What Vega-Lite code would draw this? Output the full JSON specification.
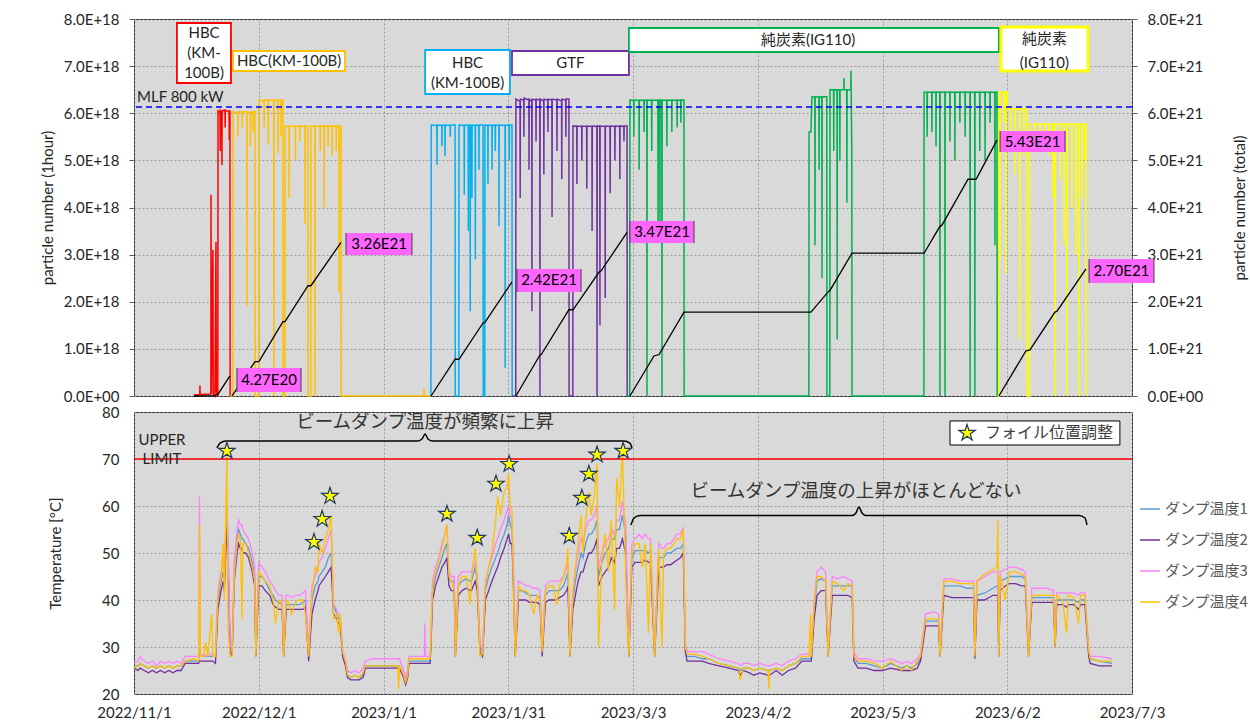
{
"$schema":"https://vega.github.io/schema/vega-lite/v6.json",
"padding":{"left":39,"top":11,"right":0,"bottom":0},
"background":"white",
"bounds":"flush",
"spacing":16,
"resolve":{"scale":{"color":"independent","stroke":"independent"},"legend":{"color":"independent","stroke":"independent"}},
"config":{
 "view":{"fill":"#d9d9d9","stroke":"#262626","strokeWidth":1},
 "axis":{"labelFont":"Lato","labelFontSize":15,"labelColor":"#262626","titleFont":"Lato","titleFontSize":15,"titleColor":"#262626","titleFontWeight":"normal","gridColor":"#8c8c8c","gridDash":[2,2],"gridWidth":0.8,"domain":false,"tickColor":"#595959"}
},
"datasets":{
"pn":[
{"t":"2022-11-15T16:00","v":2e16,"g":"r"},{"t":"2022-11-17T02:00","v":3e16,"g":"r"},{"t":"2022-11-17T03:00","v":2.2e17,"g":"r"},{"t":"2022-11-17T04:00","v":3e16,"g":"r"},{"t":"2022-11-19T19:00","v":4e16,"g":"r"},{"t":"2022-11-19T20:00","v":4.27e18,"g":"r"},{"t":"2022-11-19T22:00","v":5e16,"g":"r"},{"t":"2022-11-20T07:00","v":3.1e18,"g":"r"},{"t":"2022-11-20T09:00","v":5e16,"g":"r"},{"t":"2022-11-20T19:00","v":0,"g":"r"},{"t":"2022-11-21T01:00","v":3.27e18,"g":"r"},{"t":"2022-11-21T03:00","v":1e17,"g":"r"},{"t":"2022-11-21T12:00","v":0,"g":"r"},{"t":"2022-11-21T13:00","v":6.05e18,"g":"r"},{"t":"2022-11-22T01:00","v":6.02e18,"g":"r"},{"t":"2022-11-22T02:00","v":5.2e18,"g":"r"},{"t":"2022-11-22T03:00","v":6.05e18,"g":"r"},{"t":"2022-11-22T11:00","v":6.0e18,"g":"r"},{"t":"2022-11-22T12:00","v":4.9e18,"g":"r"},{"t":"2022-11-22T13:00","v":6.05e18,"g":"r"},{"t":"2022-11-23T06:00","v":6.07e18,"g":"r"},{"t":"2022-11-23T07:00","v":5.7e18,"g":"r"},{"t":"2022-11-23T08:00","v":6.05e18,"g":"r"},{"t":"2022-11-24T06:00","v":6.05e18,"g":"r"},{"t":"2022-11-24T07:00","v":5.43e18,"g":"r"},{"t":"2022-11-24T08:00","v":6.05e18,"g":"r"},{"t":"2022-11-24T11:00","v":6.05e18,"g":"r"},{"t":"2022-11-24T12:00","v":0,"g":"r"},
{"t":"2022-11-24T12:00","v":0,"g":"o"},{"t":"2022-11-25T04:00","v":0,"g":"o"},{"t":"2022-11-25T05:00","v":6.03e18,"g":"o"},{"t":"2022-11-26T10:00","v":6.0e18,"g":"o"},{"t":"2022-11-26T11:00","v":5.5e18,"g":"o"},{"t":"2022-11-26T12:00","v":6.03e18,"g":"o"},{"t":"2022-11-27T10:00","v":6.02e18,"g":"o"},{"t":"2022-11-27T11:00","v":5.7e18,"g":"o"},{"t":"2022-11-27T12:00","v":6.03e18,"g":"o"},{"t":"2022-11-28T14:00","v":6.03e18,"g":"o"},{"t":"2022-11-28T15:00","v":1.9e18,"g":"o"},{"t":"2022-11-28T16:00","v":6.03e18,"g":"o"},{"t":"2022-11-29T10:00","v":6.0e18,"g":"o"},{"t":"2022-11-29T11:00","v":5.3e18,"g":"o"},{"t":"2022-11-29T12:00","v":6.03e18,"g":"o"},{"t":"2022-11-30T02:00","v":6.02e18,"g":"o"},{"t":"2022-11-30T03:00","v":5.6e18,"g":"o"},{"t":"2022-11-30T04:00","v":6.03e18,"g":"o"},{"t":"2022-11-30T14:00","v":6.03e18,"g":"o"},{"t":"2022-11-30T15:00","v":0,"g":"o"},{"t":"2022-12-01T12:00","v":0,"g":"o"},{"t":"2022-12-01T13:00","v":6.28e18,"g":"o"},{"t":"2022-12-02T19:00","v":6.26e18,"g":"o"},{"t":"2022-12-02T20:00","v":5.7e18,"g":"o"},{"t":"2022-12-02T21:00","v":6.28e18,"g":"o"},{"t":"2022-12-03T19:00","v":6.27e18,"g":"o"},{"t":"2022-12-03T20:00","v":5.33e18,"g":"o"},{"t":"2022-12-03T21:00","v":6.28e18,"g":"o"},{"t":"2022-12-05T04:00","v":6.28e18,"g":"o"},{"t":"2022-12-05T05:00","v":0,"g":"o"},{"t":"2022-12-05T06:00","v":6.28e18,"g":"o"},{"t":"2022-12-06T05:00","v":6.26e18,"g":"o"},{"t":"2022-12-06T06:00","v":5.15e18,"g":"o"},{"t":"2022-12-06T07:00","v":6.28e18,"g":"o"},{"t":"2022-12-06T22:00","v":6.27e18,"g":"o"},{"t":"2022-12-06T23:00","v":5.5e18,"g":"o"},{"t":"2022-12-07T00:00","v":6.28e18,"g":"o"},{"t":"2022-12-07T10:00","v":6.28e18,"g":"o"},{"t":"2022-12-07T11:00","v":0,"g":"o"},{"t":"2022-12-07T21:00","v":0,"g":"o"},{"t":"2022-12-07T22:00","v":5.73e18,"g":"o"},{"t":"2022-12-08T21:00","v":5.72e18,"g":"o"},{"t":"2022-12-08T22:00","v":4.2e18,"g":"o"},{"t":"2022-12-08T23:00","v":5.73e18,"g":"o"},{"t":"2022-12-10T10:00","v":5.72e18,"g":"o"},{"t":"2022-12-10T11:00","v":5.0e18,"g":"o"},{"t":"2022-12-10T12:00","v":5.73e18,"g":"o"},{"t":"2022-12-11T12:00","v":5.72e18,"g":"o"},{"t":"2022-12-11T13:00","v":5.4e18,"g":"o"},{"t":"2022-12-11T14:00","v":5.73e18,"g":"o"},{"t":"2022-12-12T19:00","v":5.72e18,"g":"o"},{"t":"2022-12-12T20:00","v":3.65e18,"g":"o"},{"t":"2022-12-12T21:00","v":5.73e18,"g":"o"},{"t":"2022-12-13T13:00","v":5.73e18,"g":"o"},{"t":"2022-12-13T14:00","v":0,"g":"o"},{"t":"2022-12-14T05:00","v":0,"g":"o"},{"t":"2022-12-14T06:00","v":5.73e18,"g":"o"},{"t":"2022-12-15T05:00","v":5.72e18,"g":"o"},{"t":"2022-12-15T06:00","v":0,"g":"o"},{"t":"2022-12-15T07:00","v":5.73e18,"g":"o"},{"t":"2022-12-16T12:00","v":5.72e18,"g":"o"},{"t":"2022-12-16T13:00","v":5.2e18,"g":"o"},{"t":"2022-12-16T14:00","v":5.73e18,"g":"o"},{"t":"2022-12-17T11:00","v":5.72e18,"g":"o"},{"t":"2022-12-17T12:00","v":4.0e18,"g":"o"},{"t":"2022-12-17T13:00","v":5.73e18,"g":"o"},{"t":"2022-12-18T10:00","v":5.72e18,"g":"o"},{"t":"2022-12-18T11:00","v":5.3e18,"g":"o"},{"t":"2022-12-18T12:00","v":5.73e18,"g":"o"},{"t":"2022-12-19T10:00","v":5.72e18,"g":"o"},{"t":"2022-12-19T11:00","v":5.1e18,"g":"o"},{"t":"2022-12-19T12:00","v":5.73e18,"g":"o"},{"t":"2022-12-20T10:00","v":5.72e18,"g":"o"},{"t":"2022-12-20T11:00","v":5.2e18,"g":"o"},{"t":"2022-12-20T12:00","v":5.73e18,"g":"o"},{"t":"2022-12-21T03:00","v":5.72e18,"g":"o"},{"t":"2022-12-21T04:00","v":2.2e18,"g":"o"},{"t":"2022-12-21T05:00","v":5.73e18,"g":"o"},{"t":"2022-12-21T15:00","v":5.73e18,"g":"o"},{"t":"2022-12-21T16:00","v":0,"g":"o"},{"t":"2023-01-10T20:00","v":0,"g":"o"},{"t":"2023-01-10T22:00","v":1.5e17,"g":"o"},{"t":"2023-01-11T00:00","v":0,"g":"o"},{"t":"2023-01-12T14:00","v":0,"g":"o"},
{"t":"2023-01-12T14:00","v":0,"g":"c"},{"t":"2023-01-12T15:00","v":2.2e18,"g":"c"},{"t":"2023-01-12T16:00","v":5.75e18,"g":"c"},{"t":"2023-01-14T01:00","v":5.74e18,"g":"c"},{"t":"2023-01-14T02:00","v":4.9e18,"g":"c"},{"t":"2023-01-14T03:00","v":5.75e18,"g":"c"},{"t":"2023-01-15T06:00","v":5.74e18,"g":"c"},{"t":"2023-01-15T07:00","v":5.3e18,"g":"c"},{"t":"2023-01-15T08:00","v":5.75e18,"g":"c"},{"t":"2023-01-16T00:00","v":5.74e18,"g":"c"},{"t":"2023-01-16T01:00","v":5.1e18,"g":"c"},{"t":"2023-01-16T02:00","v":5.75e18,"g":"c"},{"t":"2023-01-17T07:00","v":5.74e18,"g":"c"},{"t":"2023-01-17T08:00","v":5.5e18,"g":"c"},{"t":"2023-01-17T09:00","v":5.75e18,"g":"c"},{"t":"2023-01-18T12:00","v":5.75e18,"g":"c"},{"t":"2023-01-18T13:00","v":0,"g":"c"},{"t":"2023-01-19T10:00","v":0,"g":"c"},{"t":"2023-01-19T11:00","v":5.75e18,"g":"c"},{"t":"2023-01-20T17:00","v":5.74e18,"g":"c"},{"t":"2023-01-20T18:00","v":4.27e18,"g":"c"},{"t":"2023-01-20T19:00","v":5.75e18,"g":"c"},{"t":"2023-01-21T17:00","v":5.74e18,"g":"c"},{"t":"2023-01-21T18:00","v":3.5e18,"g":"c"},{"t":"2023-01-21T19:00","v":5.75e18,"g":"c"},{"t":"2023-01-22T04:00","v":5.74e18,"g":"c"},{"t":"2023-01-22T05:00","v":1.8e18,"g":"c"},{"t":"2023-01-22T06:00","v":5.75e18,"g":"c"},{"t":"2023-01-22T14:00","v":5.74e18,"g":"c"},{"t":"2023-01-22T15:00","v":4.2e18,"g":"c"},{"t":"2023-01-22T16:00","v":5.75e18,"g":"c"},{"t":"2023-01-23T10:00","v":5.74e18,"g":"c"},{"t":"2023-01-23T11:00","v":2.9e18,"g":"c"},{"t":"2023-01-23T12:00","v":5.75e18,"g":"c"},{"t":"2023-01-24T07:00","v":5.74e18,"g":"c"},{"t":"2023-01-24T08:00","v":4.8e18,"g":"c"},{"t":"2023-01-24T09:00","v":5.75e18,"g":"c"},{"t":"2023-01-25T08:00","v":5.75e18,"g":"c"},{"t":"2023-01-25T09:00","v":0,"g":"c"},{"t":"2023-01-25T18:00","v":0,"g":"c"},{"t":"2023-01-25T19:00","v":5.75e18,"g":"c"},{"t":"2023-01-26T12:00","v":5.74e18,"g":"c"},{"t":"2023-01-26T13:00","v":4.5e18,"g":"c"},{"t":"2023-01-26T14:00","v":5.75e18,"g":"c"},{"t":"2023-01-27T12:00","v":5.74e18,"g":"c"},{"t":"2023-01-27T13:00","v":4.8e18,"g":"c"},{"t":"2023-01-27T14:00","v":5.75e18,"g":"c"},{"t":"2023-01-28T07:00","v":5.74e18,"g":"c"},{"t":"2023-01-28T08:00","v":5.2e18,"g":"c"},{"t":"2023-01-28T09:00","v":5.75e18,"g":"c"},{"t":"2023-01-29T05:00","v":5.74e18,"g":"c"},{"t":"2023-01-29T06:00","v":3.6e18,"g":"c"},{"t":"2023-01-29T07:00","v":5.75e18,"g":"c"},{"t":"2023-01-30T17:00","v":5.74e18,"g":"c"},{"t":"2023-01-30T18:00","v":6e17,"g":"c"},{"t":"2023-01-30T19:00","v":5.75e18,"g":"c"},{"t":"2023-01-31T17:00","v":5.74e18,"g":"c"},{"t":"2023-01-31T18:00","v":5.0e18,"g":"c"},{"t":"2023-01-31T19:00","v":5.75e18,"g":"c"},{"t":"2023-02-01T10:00","v":5.75e18,"g":"c"},{"t":"2023-02-01T11:00","v":0,"g":"c"},
{"t":"2023-02-01T11:00","v":0,"g":"p"},{"t":"2023-02-02T08:00","v":0,"g":"p"},{"t":"2023-02-02T09:00","v":6.3e18,"g":"p"},{"t":"2023-02-03T09:00","v":6.25e18,"g":"p"},{"t":"2023-02-03T10:00","v":4.2e18,"g":"p"},{"t":"2023-02-03T11:00","v":6.3e18,"g":"p"},{"t":"2023-02-04T07:00","v":6.28e18,"g":"p"},{"t":"2023-02-04T08:00","v":5.5e18,"g":"p"},{"t":"2023-02-04T09:00","v":6.32e18,"g":"p"},{"t":"2023-02-05T13:00","v":6.28e18,"g":"p"},{"t":"2023-02-05T14:00","v":4.8e18,"g":"p"},{"t":"2023-02-05T15:00","v":6.3e18,"g":"p"},{"t":"2023-02-06T06:00","v":6.25e18,"g":"p"},{"t":"2023-02-06T07:00","v":1.8e18,"g":"p"},{"t":"2023-02-06T08:00","v":6.3e18,"g":"p"},{"t":"2023-02-07T06:00","v":6.28e18,"g":"p"},{"t":"2023-02-07T07:00","v":5.4e18,"g":"p"},{"t":"2023-02-07T08:00","v":6.3e18,"g":"p"},{"t":"2023-02-08T05:00","v":6.28e18,"g":"p"},{"t":"2023-02-08T06:00","v":0,"g":"p"},{"t":"2023-02-08T07:00","v":6.3e18,"g":"p"},{"t":"2023-02-09T04:00","v":6.26e18,"g":"p"},{"t":"2023-02-09T05:00","v":4.7e18,"g":"p"},{"t":"2023-02-09T06:00","v":6.3e18,"g":"p"},{"t":"2023-02-10T04:00","v":6.28e18,"g":"p"},{"t":"2023-02-10T05:00","v":5.6e18,"g":"p"},{"t":"2023-02-10T06:00","v":6.3e18,"g":"p"},{"t":"2023-02-11T04:00","v":6.28e18,"g":"p"},{"t":"2023-02-11T05:00","v":3.8e18,"g":"p"},{"t":"2023-02-11T06:00","v":6.3e18,"g":"p"},{"t":"2023-02-12T09:00","v":6.28e18,"g":"p"},{"t":"2023-02-12T10:00","v":5.2e18,"g":"p"},{"t":"2023-02-12T11:00","v":6.3e18,"g":"p"},{"t":"2023-02-13T13:00","v":6.26e18,"g":"p"},{"t":"2023-02-13T14:00","v":4.6e18,"g":"p"},{"t":"2023-02-13T15:00","v":6.3e18,"g":"p"},{"t":"2023-02-14T13:00","v":6.28e18,"g":"p"},{"t":"2023-02-14T14:00","v":5.5e18,"g":"p"},{"t":"2023-02-14T15:00","v":6.3e18,"g":"p"},{"t":"2023-02-15T08:00","v":6.3e18,"g":"p"},{"t":"2023-02-15T09:00","v":0,"g":"p"},{"t":"2023-02-16T07:00","v":0,"g":"p"},{"t":"2023-02-16T08:00","v":5.73e18,"g":"p"},{"t":"2023-02-17T06:00","v":5.72e18,"g":"p"},{"t":"2023-02-17T07:00","v":4.5e18,"g":"p"},{"t":"2023-02-17T08:00","v":5.73e18,"g":"p"},{"t":"2023-02-18T11:00","v":5.72e18,"g":"p"},{"t":"2023-02-18T12:00","v":5.0e18,"g":"p"},{"t":"2023-02-18T13:00","v":5.73e18,"g":"p"},{"t":"2023-02-19T16:00","v":5.72e18,"g":"p"},{"t":"2023-02-19T17:00","v":4.4e18,"g":"p"},{"t":"2023-02-19T18:00","v":5.73e18,"g":"p"},{"t":"2023-02-20T23:00","v":5.72e18,"g":"p"},{"t":"2023-02-21T00:00","v":3.5e18,"g":"p"},{"t":"2023-02-21T01:00","v":5.73e18,"g":"p"},{"t":"2023-02-22T04:00","v":5.72e18,"g":"p"},{"t":"2023-02-22T05:00","v":0,"g":"p"},{"t":"2023-02-22T06:00","v":5.73e18,"g":"p"},{"t":"2023-02-22T21:00","v":5.72e18,"g":"p"},{"t":"2023-02-22T22:00","v":1.5e18,"g":"p"},{"t":"2023-02-22T23:00","v":5.73e18,"g":"p"},{"t":"2023-02-24T04:00","v":5.72e18,"g":"p"},{"t":"2023-02-24T05:00","v":2.08e18,"g":"p"},{"t":"2023-02-24T06:00","v":5.73e18,"g":"p"},{"t":"2023-02-25T09:00","v":5.72e18,"g":"p"},{"t":"2023-02-25T10:00","v":4.3e18,"g":"p"},{"t":"2023-02-25T11:00","v":5.73e18,"g":"p"},{"t":"2023-02-26T13:00","v":5.72e18,"g":"p"},{"t":"2023-02-26T14:00","v":5.0e18,"g":"p"},{"t":"2023-02-26T15:00","v":5.73e18,"g":"p"},{"t":"2023-02-27T18:00","v":5.72e18,"g":"p"},{"t":"2023-02-27T19:00","v":4.6e18,"g":"p"},{"t":"2023-02-27T20:00","v":5.73e18,"g":"p"},{"t":"2023-02-28T18:00","v":5.72e18,"g":"p"},{"t":"2023-02-28T19:00","v":5.4e18,"g":"p"},{"t":"2023-02-28T20:00","v":5.73e18,"g":"p"},{"t":"2023-03-01T13:00","v":5.73e18,"g":"p"},{"t":"2023-03-01T14:00","v":0,"g":"p"},
{"t":"2023-03-01T14:00","v":0,"g":"g"},{"t":"2023-03-02T05:00","v":0,"g":"g"},{"t":"2023-03-02T06:00","v":6.28e18,"g":"g"},{"t":"2023-03-03T04:00","v":6.27e18,"g":"g"},{"t":"2023-03-03T05:00","v":5.5e18,"g":"g"},{"t":"2023-03-03T06:00","v":6.28e18,"g":"g"},{"t":"2023-03-04T11:00","v":6.27e18,"g":"g"},{"t":"2023-03-04T12:00","v":4.8e18,"g":"g"},{"t":"2023-03-04T13:00","v":6.28e18,"g":"g"},{"t":"2023-03-05T16:00","v":6.27e18,"g":"g"},{"t":"2023-03-05T17:00","v":5.6e18,"g":"g"},{"t":"2023-03-05T18:00","v":6.28e18,"g":"g"},{"t":"2023-03-06T09:00","v":6.27e18,"g":"g"},{"t":"2023-03-06T10:00","v":0,"g":"g"},{"t":"2023-03-06T11:00","v":6.28e18,"g":"g"},{"t":"2023-03-07T13:00","v":6.27e18,"g":"g"},{"t":"2023-03-07T14:00","v":5.2e18,"g":"g"},{"t":"2023-03-07T15:00","v":6.28e18,"g":"g"},{"t":"2023-03-09T02:00","v":6.27e18,"g":"g"},{"t":"2023-03-09T03:00","v":3.3e18,"g":"g"},{"t":"2023-03-09T04:00","v":6.28e18,"g":"g"},{"t":"2023-03-09T13:00","v":6.27e18,"g":"g"},{"t":"2023-03-09T14:00","v":3.6e18,"g":"g"},{"t":"2023-03-09T15:00","v":6.28e18,"g":"g"},{"t":"2023-03-10T01:00","v":6.27e18,"g":"g"},{"t":"2023-03-10T02:00","v":0,"g":"g"},{"t":"2023-03-10T03:00","v":6.28e18,"g":"g"},{"t":"2023-03-11T06:00","v":6.27e18,"g":"g"},{"t":"2023-03-11T07:00","v":5.3e18,"g":"g"},{"t":"2023-03-11T08:00","v":6.28e18,"g":"g"},{"t":"2023-03-12T11:00","v":6.27e18,"g":"g"},{"t":"2023-03-12T12:00","v":5.6e18,"g":"g"},{"t":"2023-03-12T13:00","v":6.28e18,"g":"g"},{"t":"2023-03-13T18:00","v":6.27e18,"g":"g"},{"t":"2023-03-13T19:00","v":5.7e18,"g":"g"},{"t":"2023-03-13T20:00","v":6.28e18,"g":"g"},{"t":"2023-03-14T16:00","v":6.27e18,"g":"g"},{"t":"2023-03-14T17:00","v":5.8e18,"g":"g"},{"t":"2023-03-14T18:00","v":6.28e18,"g":"g"},{"t":"2023-03-15T11:00","v":6.28e18,"g":"g"},{"t":"2023-03-15T12:00","v":0,"g":"g"},{"t":"2023-04-15T00:00","v":0,"g":"g"},{"t":"2023-04-15T01:00","v":5.6e18,"g":"g"},{"t":"2023-04-15T12:00","v":5.6e18,"g":"g"},{"t":"2023-04-15T18:00","v":6.35e18,"g":"g"},{"t":"2023-04-16T11:00","v":6.34e18,"g":"g"},{"t":"2023-04-16T12:00","v":3.2e18,"g":"g"},{"t":"2023-04-16T13:00","v":6.35e18,"g":"g"},{"t":"2023-04-17T11:00","v":6.34e18,"g":"g"},{"t":"2023-04-17T12:00","v":4.8e18,"g":"g"},{"t":"2023-04-17T13:00","v":6.35e18,"g":"g"},{"t":"2023-04-18T04:00","v":6.34e18,"g":"g"},{"t":"2023-04-18T05:00","v":2.5e18,"g":"g"},{"t":"2023-04-18T06:00","v":6.35e18,"g":"g"},{"t":"2023-04-19T09:00","v":6.35e18,"g":"g"},{"t":"2023-04-19T10:00","v":0,"g":"g"},{"t":"2023-04-20T03:00","v":0,"g":"g"},{"t":"2023-04-20T04:00","v":6.5e18,"g":"g"},{"t":"2023-04-21T01:00","v":6.49e18,"g":"g"},{"t":"2023-04-21T02:00","v":5.2e18,"g":"g"},{"t":"2023-04-21T03:00","v":6.5e18,"g":"g"},{"t":"2023-04-21T21:00","v":6.49e18,"g":"g"},{"t":"2023-04-21T22:00","v":1.2e18,"g":"g"},{"t":"2023-04-21T23:00","v":6.5e18,"g":"g"},{"t":"2023-04-22T13:00","v":6.49e18,"g":"g"},{"t":"2023-04-22T14:00","v":5.0e18,"g":"g"},{"t":"2023-04-22T15:00","v":6.5e18,"g":"g"},{"t":"2023-04-23T13:00","v":6.5e18,"g":"g"},{"t":"2023-04-23T14:00","v":6.75e18,"g":"g"},{"t":"2023-04-23T15:00","v":6.5e18,"g":"g"},{"t":"2023-04-24T06:00","v":6.49e18,"g":"g"},{"t":"2023-04-24T07:00","v":4.1e18,"g":"g"},{"t":"2023-04-24T08:00","v":6.5e18,"g":"g"},{"t":"2023-04-25T06:00","v":6.5e18,"g":"g"},{"t":"2023-04-25T07:00","v":6.9e18,"g":"g"},{"t":"2023-04-25T08:00","v":6.5e18,"g":"g"},{"t":"2023-04-25T12:00","v":5.1e18,"g":"g"},{"t":"2023-04-25T13:00","v":0,"g":"g"},{"t":"2023-05-13T03:00","v":0,"g":"g"},{"t":"2023-05-13T04:00","v":6.45e18,"g":"g"},{"t":"2023-05-13T21:00","v":6.44e18,"g":"g"},{"t":"2023-05-13T22:00","v":5.5e18,"g":"g"},{"t":"2023-05-13T23:00","v":6.45e18,"g":"g"},{"t":"2023-05-15T01:00","v":6.44e18,"g":"g"},{"t":"2023-05-15T02:00","v":5.6e18,"g":"g"},{"t":"2023-05-15T03:00","v":6.45e18,"g":"g"},{"t":"2023-05-16T01:00","v":6.44e18,"g":"g"},{"t":"2023-05-16T02:00","v":5.3e18,"g":"g"},{"t":"2023-05-16T03:00","v":6.45e18,"g":"g"},{"t":"2023-05-17T00:00","v":6.44e18,"g":"g"},{"t":"2023-05-17T01:00","v":0,"g":"g"},{"t":"2023-05-17T02:00","v":6.45e18,"g":"g"},{"t":"2023-05-18T06:00","v":6.44e18,"g":"g"},{"t":"2023-05-18T07:00","v":0,"g":"g"},{"t":"2023-05-18T08:00","v":6.45e18,"g":"g"},{"t":"2023-05-19T11:00","v":6.44e18,"g":"g"},{"t":"2023-05-19T12:00","v":5.4e18,"g":"g"},{"t":"2023-05-19T13:00","v":6.45e18,"g":"g"},{"t":"2023-05-20T16:00","v":6.44e18,"g":"g"},{"t":"2023-05-20T17:00","v":5.0e18,"g":"g"},{"t":"2023-05-20T18:00","v":6.45e18,"g":"g"},{"t":"2023-05-21T21:00","v":6.44e18,"g":"g"},{"t":"2023-05-21T22:00","v":5.8e18,"g":"g"},{"t":"2023-05-21T23:00","v":6.45e18,"g":"g"},{"t":"2023-05-23T04:00","v":6.44e18,"g":"g"},{"t":"2023-05-23T05:00","v":5.5e18,"g":"g"},{"t":"2023-05-23T06:00","v":6.45e18,"g":"g"},{"t":"2023-05-24T09:00","v":6.44e18,"g":"g"},{"t":"2023-05-24T10:00","v":0,"g":"g"},{"t":"2023-05-24T11:00","v":6.45e18,"g":"g"},{"t":"2023-05-25T13:00","v":6.44e18,"g":"g"},{"t":"2023-05-25T14:00","v":0,"g":"g"},{"t":"2023-05-25T15:00","v":6.45e18,"g":"g"},{"t":"2023-05-26T18:00","v":6.44e18,"g":"g"},{"t":"2023-05-26T19:00","v":5.2e18,"g":"g"},{"t":"2023-05-26T20:00","v":6.45e18,"g":"g"},{"t":"2023-05-28T01:00","v":6.44e18,"g":"g"},{"t":"2023-05-28T02:00","v":5.0e18,"g":"g"},{"t":"2023-05-28T03:00","v":6.45e18,"g":"g"},{"t":"2023-05-29T06:00","v":6.44e18,"g":"g"},{"t":"2023-05-29T07:00","v":5.8e18,"g":"g"},{"t":"2023-05-29T08:00","v":6.45e18,"g":"g"},{"t":"2023-05-30T11:00","v":6.44e18,"g":"g"},{"t":"2023-05-30T12:00","v":3.2e18,"g":"g"},{"t":"2023-05-30T13:00","v":6.45e18,"g":"g"},{"t":"2023-05-31T00:00","v":6.45e18,"g":"g"},{"t":"2023-05-31T01:00","v":0,"g":"g"},
{"t":"2023-05-31T01:00","v":0,"g":"y"},{"t":"2023-05-31T10:00","v":0,"g":"y"},{"t":"2023-05-31T11:00","v":6.45e18,"g":"y"},{"t":"2023-05-31T15:00","v":6.44e18,"g":"y"},{"t":"2023-05-31T16:00","v":2.9e18,"g":"y"},{"t":"2023-05-31T17:00","v":6.45e18,"g":"y"},{"t":"2023-06-01T16:00","v":6.44e18,"g":"y"},{"t":"2023-06-01T17:00","v":5.8e18,"g":"y"},{"t":"2023-06-01T18:00","v":6.45e18,"g":"y"},{"t":"2023-06-02T04:00","v":6.44e18,"g":"y"},{"t":"2023-06-02T05:00","v":2.6e18,"g":"y"},{"t":"2023-06-02T06:00","v":6.45e18,"g":"y"},{"t":"2023-06-02T11:00","v":6.45e18,"g":"y"},{"t":"2023-06-02T12:00","v":6.1e18,"g":"y"},{"t":"2023-06-03T09:00","v":6.09e18,"g":"y"},{"t":"2023-06-03T10:00","v":5.5e18,"g":"y"},{"t":"2023-06-03T11:00","v":6.1e18,"g":"y"},{"t":"2023-06-04T09:00","v":6.09e18,"g":"y"},{"t":"2023-06-04T10:00","v":4.7e18,"g":"y"},{"t":"2023-06-04T11:00","v":6.1e18,"g":"y"},{"t":"2023-06-05T13:00","v":6.09e18,"g":"y"},{"t":"2023-06-05T14:00","v":1.2e18,"g":"y"},{"t":"2023-06-05T15:00","v":6.1e18,"g":"y"},{"t":"2023-06-06T13:00","v":6.09e18,"g":"y"},{"t":"2023-06-06T14:00","v":5.1e18,"g":"y"},{"t":"2023-06-06T15:00","v":6.1e18,"g":"y"},{"t":"2023-06-07T08:00","v":6.1e18,"g":"y"},{"t":"2023-06-07T09:00","v":0,"g":"y"},{"t":"2023-06-08T00:00","v":0,"g":"y"},{"t":"2023-06-08T01:00","v":5.77e18,"g":"y"},{"t":"2023-06-09T06:00","v":5.76e18,"g":"y"},{"t":"2023-06-09T07:00","v":5.2e18,"g":"y"},{"t":"2023-06-09T08:00","v":5.77e18,"g":"y"},{"t":"2023-06-10T11:00","v":5.76e18,"g":"y"},{"t":"2023-06-10T12:00","v":5.3e18,"g":"y"},{"t":"2023-06-10T13:00","v":5.77e18,"g":"y"},{"t":"2023-06-11T16:00","v":5.76e18,"g":"y"},{"t":"2023-06-11T17:00","v":5.4e18,"g":"y"},{"t":"2023-06-11T18:00","v":5.77e18,"g":"y"},{"t":"2023-06-12T16:00","v":5.76e18,"g":"y"},{"t":"2023-06-12T17:00","v":5.1e18,"g":"y"},{"t":"2023-06-12T18:00","v":5.77e18,"g":"y"},{"t":"2023-06-13T16:00","v":5.76e18,"g":"y"},{"t":"2023-06-13T17:00","v":4.2e18,"g":"y"},{"t":"2023-06-13T18:00","v":5.77e18,"g":"y"},{"t":"2023-06-14T04:00","v":5.77e18,"g":"y"},{"t":"2023-06-14T05:00","v":0,"g":"y"},{"t":"2023-06-14T06:00","v":5.77e18,"g":"y"},{"t":"2023-06-15T09:00","v":5.76e18,"g":"y"},{"t":"2023-06-15T10:00","v":4.6e18,"g":"y"},{"t":"2023-06-15T11:00","v":5.77e18,"g":"y"},{"t":"2023-06-16T09:00","v":5.76e18,"g":"y"},{"t":"2023-06-16T10:00","v":3.2e18,"g":"y"},{"t":"2023-06-16T11:00","v":5.77e18,"g":"y"},{"t":"2023-06-17T01:00","v":5.77e18,"g":"y"},{"t":"2023-06-17T02:00","v":0,"g":"y"},{"t":"2023-06-17T03:00","v":5.77e18,"g":"y"},{"t":"2023-06-18T06:00","v":5.76e18,"g":"y"},{"t":"2023-06-18T07:00","v":4.0e18,"g":"y"},{"t":"2023-06-18T08:00","v":5.77e18,"g":"y"},{"t":"2023-06-19T06:00","v":5.76e18,"g":"y"},{"t":"2023-06-19T07:00","v":3.0e18,"g":"y"},{"t":"2023-06-19T08:00","v":5.77e18,"g":"y"},{"t":"2023-06-20T00:00","v":5.77e18,"g":"y"},{"t":"2023-06-20T01:00","v":0,"g":"y"},{"t":"2023-06-20T02:00","v":5.77e18,"g":"y"},{"t":"2023-06-20T18:00","v":5.76e18,"g":"y"},{"t":"2023-06-20T19:00","v":4.2e18,"g":"y"},{"t":"2023-06-20T20:00","v":5.77e18,"g":"y"},{"t":"2023-06-21T11:00","v":5.76e18,"g":"y"},{"t":"2023-06-21T12:00","v":5.0e18,"g":"y"},{"t":"2023-06-21T13:00","v":5.77e18,"g":"y"},{"t":"2023-06-21T18:00","v":5.77e18,"g":"y"},{"t":"2023-06-21T19:00","v":0,"g":"y"}
],
"cum":[
{"t":"2022-11-15T16:00","n":0,"s":1},{"t":"2022-11-20T19:00","n":1e19,"s":1},{"t":"2022-11-21T13:00","n":4e19,"s":1},{"t":"2022-11-24T11:00","n":4.27e20,"s":1},
{"t":"2022-11-24T23:00","n":0,"s":2},{"t":"2022-11-30T14:00","n":7.3e20,"s":2},{"t":"2022-12-01T13:00","n":7.3e20,"s":2},{"t":"2022-12-07T10:00","n":1.58e21,"s":2},{"t":"2022-12-07T22:00","n":1.58e21,"s":2},{"t":"2022-12-13T13:00","n":2.34e21,"s":2},{"t":"2022-12-14T06:00","n":2.34e21,"s":2},{"t":"2022-12-21T15:00","n":3.26e21,"s":2},
{"t":"2023-01-12T15:00","n":0,"s":3},{"t":"2023-01-18T12:00","n":7.8e20,"s":3},{"t":"2023-01-19T11:00","n":7.8e20,"s":3},{"t":"2023-01-25T08:00","n":1.55e21,"s":3},{"t":"2023-01-25T19:00","n":1.56e21,"s":3},{"t":"2023-02-01T10:00","n":2.42e21,"s":3},
{"t":"2023-02-02T09:00","n":0,"s":4},{"t":"2023-02-08T06:00","n":8.7e20,"s":4},{"t":"2023-02-08T14:00","n":8.8e20,"s":4},{"t":"2023-02-15T08:00","n":1.83e21,"s":4},{"t":"2023-02-16T08:00","n":1.83e21,"s":4},{"t":"2023-02-22T17:00","n":2.63e21,"s":4},{"t":"2023-02-23T04:00","n":2.65e21,"s":4},{"t":"2023-03-01T13:00","n":3.47e21,"s":4},
{"t":"2023-03-02T06:00","n":0,"s":5},{"t":"2023-03-08T03:00","n":8.5e20,"s":5},{"t":"2023-03-09T09:00","n":8.8e20,"s":5},{"t":"2023-03-15T11:00","n":1.78e21,"s":5},{"t":"2023-04-15T12:00","n":1.78e21,"s":5},{"t":"2023-04-19T22:00","n":2.23e21,"s":5},{"t":"2023-04-20T04:00","n":2.24e21,"s":5},{"t":"2023-04-25T13:00","n":3.03e21,"s":5},{"t":"2023-05-13T04:00","n":3.03e21,"s":5},{"t":"2023-05-17T01:00","n":3.6e21,"s":5},{"t":"2023-05-17T12:00","n":3.62e21,"s":5},{"t":"2023-05-23T22:00","n":4.6e21,"s":5},{"t":"2023-05-25T21:00","n":4.6e21,"s":5},{"t":"2023-05-31T00:00","n":5.43e21,"s":5},
{"t":"2023-05-31T11:00","n":0,"s":6},{"t":"2023-06-07T02:00","n":9.6e20,"s":6},{"t":"2023-06-08T01:00","n":9.8e20,"s":6},{"t":"2023-06-14T04:00","n":1.78e21,"s":6},{"t":"2023-06-14T16:00","n":1.8e21,"s":6},{"t":"2023-06-21T18:00","n":2.7e21,"s":6}
],
"box":[
{"g":"r","x1":"2022-11-11T12:00","x2":"2022-11-24T17:00","y1":7.915e18,"y2":6.642e18},
{"g":"o","x1":"2022-11-25T05:00","x2":"2022-12-22T14:00","y1":7.321e18,"y2":6.897e18},
{"g":"c","x1":"2023-01-11T04:00","x2":"2023-01-31T22:00","y1":7.342e18,"y2":6.408e18},
{"g":"p","x1":"2023-02-01T10:00","x2":"2023-03-02T00:00","y1":7.321e18,"y2":6.812e18},
{"g":"g","x1":"2023-03-02T00:00","x2":"2023-05-31T11:00","y1":7.809e18,"y2":7.3e18},
{"g":"y","x1":"2023-05-31T23:00","x2":"2023-06-22T06:00","y1":7.83e18,"y2":6.897e18}
],
"boxtxt":[
{"txt":"HBC","t":"2022-11-18T03:00","y":7.703e18},{"txt":"(KM-","t":"2022-11-18T03:00","y":7.279e18},{"txt":"100B)","t":"2022-11-18T03:00","y":6.854e18},
{"txt":"HBC(KM-100B)","t":"2022-12-08T22:00","y":7.109e18},
{"txt":"HBC","t":"2023-01-21T13:00","y":7.066e18},{"txt":"(KM-100B)","t":"2023-01-21T13:00","y":6.642e18},
{"txt":"GTF","t":"2023-02-15T17:00","y":7.066e18},
{"txt":"純炭素(IG110)","t":"2023-04-14T19:00","y":7.554e18},
{"txt":"純炭素","t":"2023-06-11T14:00","y":7.576e18},{"txt":"(IG110)","t":"2023-06-11T14:00","y":7.066e18}
],
"lab":[
{"txt":"4.27E20","x1":"2022-11-26T04:00","x2":"2022-12-11T20:00","y1":5.94e17,"y2":8.5e16,"t":"2022-12-04T00:00","y":3.4e17},
{"txt":"3.26E21","x1":"2022-12-22T20:00","x2":"2023-01-07T23:00","y1":3.459e18,"y2":2.992e18,"t":"2022-12-30T22:00","y":3.225e18},
{"txt":"2.42E21","x1":"2023-02-02T15:00","x2":"2023-02-18T07:00","y1":2.695e18,"y2":2.207e18,"t":"2023-02-10T11:00","y":2.451e18},
{"txt":"3.47E21","x1":"2023-03-02T06:00","x2":"2023-03-17T22:00","y1":3.714e18,"y2":3.247e18,"t":"2023-03-10T02:00","y":3.48e18},
{"txt":"5.43E21","x1":"2023-05-31T18:00","x2":"2023-06-16T15:00","y1":5.623e18,"y2":5.178e18,"t":"2023-06-08T16:00","y":5.4e18},
{"txt":"2.70E21","x1":"2023-06-22T12:00","x2":"2023-07-08T09:00","y1":2.907e18,"y2":2.398e18,"t":"2023-06-30T10:00","y":2.653e18}
],
"temp":[
{"t":"2022-11-01T00:00","T1":26,"T2":25.5,"T3":26.5,"T4":25.5},{"t":"2022-11-02T00:00","T1":26,"T2":25,"T3":27,"T4":26},{"t":"2022-11-02T12:00","T1":26.5,"T2":25.5,"T3":28,"T4":26.5},{"t":"2022-11-03T12:00","T1":26,"T2":25,"T3":27,"T4":26},{"t":"2022-11-04T12:00","T1":25.5,"T2":24.5,"T3":26.5,"T4":25.5},{"t":"2022-11-05T12:00","T1":26,"T2":25,"T3":27,"T4":26},{"t":"2022-11-06T12:00","T1":25.5,"T2":24.5,"T3":26,"T4":25.5},{"t":"2022-11-07T12:00","T1":26,"T2":25,"T3":27,"T4":26},{"t":"2022-11-08T12:00","T1":25.5,"T2":24.5,"T3":26.5,"T4":25.5},{"t":"2022-11-09T12:00","T1":26,"T2":25,"T3":27,"T4":26},{"t":"2022-11-10T12:00","T1":25.5,"T2":24.5,"T3":26.5,"T4":25.5},{"t":"2022-11-11T12:00","T1":26,"T2":25,"T3":27,"T4":26},{"t":"2022-11-12T12:00","T1":26,"T2":25,"T3":26.5,"T4":26},{"t":"2022-11-13T12:00","T1":27,"T2":26.5,"T3":28,"T4":27},{"t":"2022-11-15T12:00","T1":27,"T2":26.5,"T3":28,"T4":27.5},{"t":"2022-11-16T19:00","T1":27,"T2":26.5,"T3":28,"T4":27},{"t":"2022-11-17T00:00","T1":30,"T2":27,"T3":62,"T4":56},{"t":"2022-11-17T05:00","T1":28,"T2":27,"T3":28,"T4":28},{"t":"2022-11-18T00:00","T1":28,"T2":27,"T3":28.5,"T4":28},{"t":"2022-11-18T12:00","T1":28,"T2":27,"T3":28,"T4":31},{"t":"2022-11-19T00:00","T1":28,"T2":27,"T3":28.5,"T4":28},{"t":"2022-11-20T00:00","T1":28,"T2":27,"T3":28.5,"T4":37},{"t":"2022-11-20T07:00","T1":28,"T2":27,"T3":28,"T4":28},{"t":"2022-11-20T22:00","T1":28,"T2":26.5,"T3":28,"T4":28},{"t":"2022-11-21T12:00","T1":40,"T2":38,"T3":42,"T4":41},{"t":"2022-11-22T07:00","T1":44,"T2":42,"T3":46,"T4":45},{"t":"2022-11-22T19:00","T1":46,"T2":44,"T3":48,"T4":52},{"t":"2022-11-23T02:00","T1":44,"T2":42,"T3":46,"T4":40},{"t":"2022-11-23T17:00","T1":58,"T2":56,"T3":62,"T4":71},{"t":"2022-11-24T00:00","T1":50,"T2":48,"T3":52,"T4":34},{"t":"2022-11-24T12:00","T1":30,"T2":29,"T3":31,"T4":28},{"t":"2022-11-25T00:00","T1":29,"T2":28,"T3":29,"T4":28},{"t":"2022-11-25T12:00","T1":46,"T2":44,"T3":48,"T4":45},{"t":"2022-11-26T05:00","T1":53,"T2":50,"T3":55,"T4":52},{"t":"2022-11-26T14:00","T1":55,"T2":52,"T3":57,"T4":54},{"t":"2022-11-27T00:00","T1":54,"T2":51,"T3":56,"T4":53},{"t":"2022-11-27T10:00","T1":53,"T2":51,"T3":56,"T4":36},{"t":"2022-11-27T14:00","T1":53,"T2":50,"T3":55,"T4":52},{"t":"2022-11-28T07:00","T1":52,"T2":50,"T3":54,"T4":52},{"t":"2022-11-29T00:00","T1":51,"T2":49,"T3":53,"T4":50},{"t":"2022-11-29T22:00","T1":48,"T2":46,"T3":50,"T4":47},{"t":"2022-11-30T12:00","T1":45,"T2":43,"T3":47,"T4":44},{"t":"2022-11-30T19:00","T1":29,"T2":28,"T3":29,"T4":28},{"t":"2022-12-01T12:00","T1":45,"T2":43,"T3":48,"T4":46},{"t":"2022-12-02T07:00","T1":45,"T2":43,"T3":47,"T4":45},{"t":"2022-12-03T02:00","T1":44,"T2":42,"T3":46,"T4":44},{"t":"2022-12-04T05:00","T1":42,"T2":41,"T3":44,"T4":43},{"t":"2022-12-05T00:00","T1":41,"T2":39,"T3":43,"T4":40},{"t":"2022-12-05T14:00","T1":40,"T2":38.5,"T3":42,"T4":35},{"t":"2022-12-06T10:00","T1":39.5,"T2":38,"T3":41,"T4":40},{"t":"2022-12-07T05:00","T1":39,"T2":38,"T3":41,"T4":39},{"t":"2022-12-07T14:00","T1":29,"T2":28,"T3":29,"T4":28},{"t":"2022-12-08T05:00","T1":39,"T2":38,"T3":41,"T4":40},{"t":"2022-12-08T19:00","T1":39,"T2":38,"T3":41,"T4":39.5},{"t":"2022-12-09T12:00","T1":39,"T2":38,"T3":40.5,"T4":37},{"t":"2022-12-10T12:00","T1":39,"T2":38,"T3":41,"T4":39.5},{"t":"2022-12-11T12:00","T1":39,"T2":38,"T3":41,"T4":40},{"t":"2022-12-12T07:00","T1":39.5,"T2":38,"T3":41.5,"T4":40},{"t":"2022-12-12T22:00","T1":40,"T2":38.5,"T3":42,"T4":37},{"t":"2022-12-13T17:00","T1":29,"T2":27,"T3":29,"T4":28},{"t":"2022-12-14T12:00","T1":40,"T2":37,"T3":43,"T4":41},{"t":"2022-12-15T07:00","T1":43,"T2":40,"T3":45,"T4":47},{"t":"2022-12-16T00:00","T1":44,"T2":42,"T3":47,"T4":46},{"t":"2022-12-16T05:00","T1":45,"T2":43,"T3":48,"T4":52},{"t":"2022-12-17T00:00","T1":46,"T2":44,"T3":49,"T4":50},{"t":"2022-12-17T19:00","T1":47,"T2":45,"T3":51,"T4":53},{"t":"2022-12-18T12:00","T1":49,"T2":46,"T3":53,"T4":55},{"t":"2022-12-19T05:00","T1":50,"T2":47,"T3":55,"T4":58},{"t":"2022-12-19T19:00","T1":39,"T2":37,"T3":39,"T4":36},{"t":"2022-12-20T14:00","T1":37,"T2":36,"T3":38,"T4":37},{"t":"2022-12-21T00:00","T1":36,"T2":35,"T3":37,"T4":33},{"t":"2022-12-21T10:00","T1":36,"T2":35,"T3":37,"T4":37},{"t":"2022-12-22T00:00","T1":29,"T2":28,"T3":29,"T4":29},{"t":"2022-12-22T17:00","T1":27,"T2":26,"T3":27,"T4":27},{"t":"2022-12-23T05:00","T1":24,"T2":23.5,"T3":25,"T4":24},{"t":"2022-12-24T00:00","T1":23.5,"T2":23,"T3":24.5,"T4":23.5},{"t":"2022-12-25T00:00","T1":24,"T2":23,"T3":25,"T4":24},{"t":"2022-12-26T00:00","T1":23.5,"T2":23,"T3":24.5,"T4":23.5},{"t":"2022-12-27T00:00","T1":24,"T2":23.5,"T3":25.5,"T4":24.5},{"t":"2022-12-27T14:00","T1":26,"T2":25.5,"T3":27,"T4":26},{"t":"2022-12-29T00:00","T1":26,"T2":25.5,"T3":27.5,"T4":26},{"t":"2022-12-31T00:00","T1":26,"T2":25.5,"T3":27.5,"T4":26},{"t":"2023-01-02T00:00","T1":26,"T2":25.5,"T3":27.5,"T4":26},{"t":"2023-01-04T12:00","T1":26,"T2":25.5,"T3":27.5,"T4":26},{"t":"2023-01-04T17:00","T1":26,"T2":25.5,"T3":27.5,"T4":21},{"t":"2023-01-04T22:00","T1":26,"T2":25.5,"T3":27.5,"T4":26},{"t":"2023-01-05T22:00","T1":24,"T2":23.5,"T3":25,"T4":24},{"t":"2023-01-06T10:00","T1":22.5,"T2":22,"T3":23.5,"T4":22.5},{"t":"2023-01-06T22:00","T1":24,"T2":23.5,"T3":25,"T4":24},{"t":"2023-01-07T05:00","T1":27,"T2":26.5,"T3":28,"T4":27.5},{"t":"2023-01-09T00:00","T1":27,"T2":26.5,"T3":28,"T4":27.5},{"t":"2023-01-11T00:00","T1":27,"T2":26.5,"T3":28,"T4":27.5},{"t":"2023-01-11T02:00","T1":27,"T2":26.5,"T3":35,"T4":27.5},{"t":"2023-01-11T07:00","T1":27,"T2":26.5,"T3":28,"T4":27.5},{"t":"2023-01-12T10:00","T1":27,"T2":26.5,"T3":28,"T4":27.5},{"t":"2023-01-13T00:00","T1":42,"T2":40,"T3":44,"T4":43},{"t":"2023-01-13T17:00","T1":45,"T2":43,"T3":47,"T4":46},{"t":"2023-01-14T12:00","T1":47,"T2":45,"T3":49,"T4":48},{"t":"2023-01-15T07:00","T1":49,"T2":47,"T3":52,"T4":51},{"t":"2023-01-16T00:00","T1":51,"T2":48,"T3":54,"T4":54},{"t":"2023-01-16T12:00","T1":52,"T2":49,"T3":56,"T4":56},{"t":"2023-01-17T00:00","T1":45,"T2":43,"T3":46,"T4":45},{"t":"2023-01-17T14:00","T1":44,"T2":42,"T3":45,"T4":44},{"t":"2023-01-18T07:00","T1":44,"T2":42,"T3":45,"T4":42},{"t":"2023-01-18T14:00","T1":29,"T2":28,"T3":29,"T4":28},{"t":"2023-01-19T07:00","T1":43,"T2":41,"T3":45,"T4":43},{"t":"2023-01-20T05:00","T1":44,"T2":42,"T3":46,"T4":45},{"t":"2023-01-21T05:00","T1":44.5,"T2":42.5,"T3":46,"T4":45},{"t":"2023-01-22T05:00","T1":44,"T2":42,"T3":46,"T4":39},{"t":"2023-01-22T12:00","T1":44,"T2":42,"T3":46,"T4":45},{"t":"2023-01-23T10:00","T1":47,"T2":44,"T3":48,"T4":51},{"t":"2023-01-23T22:00","T1":44,"T2":42,"T3":45,"T4":44},{"t":"2023-01-24T14:00","T1":30,"T2":29,"T3":31,"T4":28},{"t":"2023-01-25T05:00","T1":29,"T2":28,"T3":29,"T4":28.5},{"t":"2023-01-25T22:00","T1":42,"T2":40,"T3":44,"T4":43},{"t":"2023-01-26T17:00","T1":45,"T2":42,"T3":47,"T4":47},{"t":"2023-01-27T12:00","T1":47,"T2":44,"T3":49,"T4":50},{"t":"2023-01-28T10:00","T1":49,"T2":46,"T3":52,"T4":57},{"t":"2023-01-28T22:00","T1":50,"T2":47,"T3":53,"T4":62},{"t":"2023-01-29T14:00","T1":52,"T2":49,"T3":55,"T4":58},{"t":"2023-01-30T12:00","T1":54,"T2":51,"T3":57,"T4":63},{"t":"2023-01-31T05:00","T1":56,"T2":53,"T3":59,"T4":64},{"t":"2023-01-31T14:00","T1":58,"T2":54,"T3":60,"T4":67},{"t":"2023-02-01T00:00","T1":56,"T2":52,"T3":58,"T4":60},{"t":"2023-02-01T10:00","T1":55,"T2":52,"T3":57,"T4":59},{"t":"2023-02-01T19:00","T1":45,"T2":42,"T3":46,"T4":40},{"t":"2023-02-02T05:00","T1":29,"T2":28,"T3":29,"T4":28},{"t":"2023-02-03T00:00","T1":42,"T2":40,"T3":44,"T4":43},{"t":"2023-02-03T22:00","T1":42,"T2":40,"T3":43.5,"T4":42},{"t":"2023-02-04T19:00","T1":41.5,"T2":40,"T3":43,"T4":42},{"t":"2023-02-05T17:00","T1":41,"T2":39.5,"T3":43,"T4":41},{"t":"2023-02-06T17:00","T1":41,"T2":39.5,"T3":42.5,"T4":37},{"t":"2023-02-07T12:00","T1":41,"T2":39.5,"T3":42.5,"T4":41},{"t":"2023-02-08T07:00","T1":40.5,"T2":39,"T3":42,"T4":40},{"t":"2023-02-08T19:00","T1":29,"T2":28,"T3":29,"T4":29},{"t":"2023-02-09T14:00","T1":41,"T2":39.5,"T3":43,"T4":42},{"t":"2023-02-10T12:00","T1":42,"T2":40,"T3":44,"T4":43},{"t":"2023-02-11T12:00","T1":42,"T2":40,"T3":44,"T4":43},{"t":"2023-02-12T07:00","T1":42,"T2":40,"T3":44,"T4":39},{"t":"2023-02-13T00:00","T1":42,"T2":40.5,"T3":44,"T4":43},{"t":"2023-02-14T00:00","T1":43,"T2":41,"T3":45,"T4":45},{"t":"2023-02-14T19:00","T1":45,"T2":42,"T3":47,"T4":48},{"t":"2023-02-15T02:00","T1":46,"T2":43,"T3":48,"T4":51},{"t":"2023-02-15T14:00","T1":29,"T2":28,"T3":29,"T4":28},{"t":"2023-02-16T07:00","T1":40,"T2":38,"T3":42,"T4":41},{"t":"2023-02-16T22:00","T1":44,"T2":41,"T3":46,"T4":47},{"t":"2023-02-17T14:00","T1":47,"T2":44,"T3":50,"T4":52},{"t":"2023-02-18T07:00","T1":50,"T2":46,"T3":53,"T4":58},{"t":"2023-02-18T19:00","T1":49,"T2":46,"T3":52,"T4":50},{"t":"2023-02-19T10:00","T1":52,"T2":48,"T3":55,"T4":57},{"t":"2023-02-20T05:00","T1":54,"T2":50,"T3":57,"T4":63},{"t":"2023-02-20T19:00","T1":54,"T2":50,"T3":57,"T4":58},{"t":"2023-02-21T12:00","T1":55,"T2":51,"T3":58,"T4":62},{"t":"2023-02-22T05:00","T1":57,"T2":53,"T3":60,"T4":69},{"t":"2023-02-22T14:00","T1":45,"T2":43,"T3":47,"T4":30},{"t":"2023-02-23T10:00","T1":48,"T2":45,"T3":50,"T4":50},{"t":"2023-02-24T05:00","T1":50,"T2":46,"T3":52,"T4":54},{"t":"2023-02-25T00:00","T1":51,"T2":47,"T3":53,"T4":46},{"t":"2023-02-25T17:00","T1":53,"T2":49,"T3":55,"T4":57},{"t":"2023-02-26T12:00","T1":53,"T2":48,"T3":54,"T4":38},{"t":"2023-02-27T00:00","T1":55,"T2":51,"T3":57,"T4":66},{"t":"2023-02-27T17:00","T1":55,"T2":51,"T3":57,"T4":60},{"t":"2023-02-28T10:00","T1":58,"T2":53,"T3":61,"T4":72},{"t":"2023-03-01T05:00","T1":54,"T2":50,"T3":56,"T4":46},{"t":"2023-03-01T14:00","T1":40,"T2":38,"T3":42,"T4":35},{"t":"2023-03-02T00:00","T1":29,"T2":28,"T3":29,"T4":28},{"t":"2023-03-02T17:00","T1":49,"T2":47,"T3":52,"T4":50},{"t":"2023-03-03T12:00","T1":50.5,"T2":48,"T3":53,"T4":52},{"t":"2023-03-04T12:00","T1":50.5,"T2":48,"T3":54,"T4":52},{"t":"2023-03-05T07:00","T1":50.5,"T2":48,"T3":53,"T4":47},{"t":"2023-03-06T00:00","T1":50.5,"T2":48.5,"T3":54,"T4":52},{"t":"2023-03-06T19:00","T1":50,"T2":48,"T3":53,"T4":33},{"t":"2023-03-07T07:00","T1":50.5,"T2":48,"T3":53,"T4":52},{"t":"2023-03-08T07:00","T1":29,"T2":28,"T3":29,"T4":28},{"t":"2023-03-09T07:00","T1":49,"T2":47,"T3":52,"T4":51},{"t":"2023-03-10T02:00","T1":49,"T2":47,"T3":51,"T4":30},{"t":"2023-03-10T12:00","T1":49,"T2":47,"T3":51,"T4":50},{"t":"2023-03-11T07:00","T1":50,"T2":47.5,"T3":52,"T4":51},{"t":"2023-03-12T05:00","T1":50,"T2":47.5,"T3":52,"T4":51},{"t":"2023-03-13T00:00","T1":50.5,"T2":48,"T3":53,"T4":52},{"t":"2023-03-13T19:00","T1":51,"T2":48.5,"T3":54,"T4":53},{"t":"2023-03-14T14:00","T1":51,"T2":49,"T3":54,"T4":53},{"t":"2023-03-15T07:00","T1":52,"T2":50,"T3":55.5,"T4":55},{"t":"2023-03-15T19:00","T1":30,"T2":29,"T3":31,"T4":30},{"t":"2023-03-16T05:00","T1":28,"T2":27,"T3":29,"T4":28.5},{"t":"2023-03-18T00:00","T1":28,"T2":27,"T3":29,"T4":28.5},{"t":"2023-03-20T00:00","T1":27.5,"T2":27,"T3":29,"T4":28},{"t":"2023-03-21T12:00","T1":27.5,"T2":26.5,"T3":28.5,"T4":27.5},{"t":"2023-03-24T00:00","T1":26.5,"T2":26,"T3":27.5,"T4":26.5},{"t":"2023-03-26T12:00","T1":26,"T2":25.5,"T3":27,"T4":26},{"t":"2023-03-28T19:00","T1":25.5,"T2":25,"T3":26.5,"T4":25.5},{"t":"2023-03-29T05:00","T1":25,"T2":24,"T3":26,"T4":23},{"t":"2023-03-30T00:00","T1":25.5,"T2":25,"T3":26.5,"T4":25.5},{"t":"2023-03-31T12:00","T1":25.5,"T2":24.5,"T3":26.5,"T4":25.5},{"t":"2023-04-01T12:00","T1":25,"T2":24,"T3":26,"T4":25},{"t":"2023-04-03T00:00","T1":25.5,"T2":24.5,"T3":26.5,"T4":25.5},{"t":"2023-04-05T00:00","T1":25,"T2":24,"T3":26,"T4":25},{"t":"2023-04-05T05:00","T1":25,"T2":24,"T3":26,"T4":21},{"t":"2023-04-05T10:00","T1":25,"T2":24,"T3":26,"T4":25},{"t":"2023-04-07T00:00","T1":25.5,"T2":25,"T3":26.5,"T4":25.5},{"t":"2023-04-08T12:00","T1":25,"T2":24,"T3":26,"T4":25},{"t":"2023-04-10T00:00","T1":26,"T2":25,"T3":27,"T4":26},{"t":"2023-04-11T17:00","T1":26.5,"T2":25.5,"T3":27.5,"T4":26.5},{"t":"2023-04-13T07:00","T1":27.5,"T2":27,"T3":28.5,"T4":28},{"t":"2023-04-15T00:00","T1":27.5,"T2":27,"T3":28.5,"T4":28},{"t":"2023-04-15T10:00","T1":27.5,"T2":27,"T3":28.5,"T4":37},{"t":"2023-04-15T14:00","T1":27.5,"T2":27,"T3":28.5,"T4":28},{"t":"2023-04-16T07:00","T1":38,"T2":36,"T3":40,"T4":39},{"t":"2023-04-17T00:00","T1":44,"T2":41,"T3":46,"T4":45},{"t":"2023-04-18T00:00","T1":44.5,"T2":42,"T3":47,"T4":45},{"t":"2023-04-19T02:00","T1":44,"T2":42,"T3":46,"T4":44},{"t":"2023-04-19T17:00","T1":29,"T2":28,"T3":29,"T4":28},{"t":"2023-04-20T17:00","T1":43,"T2":41,"T3":45,"T4":44},{"t":"2023-04-22T00:00","T1":43,"T2":41,"T3":44.5,"T4":43.5},{"t":"2023-04-23T12:00","T1":43,"T2":41,"T3":45,"T4":42},{"t":"2023-04-24T12:00","T1":43,"T2":41,"T3":44.5,"T4":43.5},{"t":"2023-04-25T14:00","T1":43,"T2":40.5,"T3":44,"T4":43},{"t":"2023-04-26T00:00","T1":28,"T2":27,"T3":29,"T4":28},{"t":"2023-04-27T00:00","T1":26.5,"T2":25.5,"T3":27.5,"T4":27},{"t":"2023-04-29T00:00","T1":26.5,"T2":25.5,"T3":27.5,"T4":27},{"t":"2023-05-01T00:00","T1":26,"T2":25,"T3":27,"T4":26.5},{"t":"2023-05-03T00:00","T1":25.5,"T2":25,"T3":27,"T4":25.5},{"t":"2023-05-05T00:00","T1":26.5,"T2":25.5,"T3":27.5,"T4":27},{"t":"2023-05-07T17:00","T1":25.5,"T2":25,"T3":26.5,"T4":25},{"t":"2023-05-09T00:00","T1":26,"T2":25,"T3":27,"T4":26},{"t":"2023-05-10T02:00","T1":25.5,"T2":25,"T3":26.5,"T4":25},{"t":"2023-05-11T12:00","T1":26.5,"T2":25.5,"T3":27.5,"T4":27},{"t":"2023-05-12T07:00","T1":27.5,"T2":27,"T3":28.5,"T4":28},{"t":"2023-05-13T12:00","T1":35.5,"T2":34.5,"T3":37,"T4":36},{"t":"2023-05-15T12:00","T1":35.5,"T2":34.5,"T3":37.5,"T4":36},{"t":"2023-05-16T17:00","T1":35.5,"T2":34.5,"T3":37,"T4":36},{"t":"2023-05-17T02:00","T1":29,"T2":28,"T3":29,"T4":28},{"t":"2023-05-18T00:00","T1":43,"T2":41,"T3":44.5,"T4":44},{"t":"2023-05-20T00:00","T1":43,"T2":40.5,"T3":44.5,"T4":44},{"t":"2023-05-22T00:00","T1":43,"T2":40.5,"T3":44,"T4":43.5},{"t":"2023-05-23T12:00","T1":42.5,"T2":40.5,"T3":44,"T4":43.5},{"t":"2023-05-25T07:00","T1":42.5,"T2":40.5,"T3":44,"T4":43.5},{"t":"2023-05-25T14:00","T1":29,"T2":27.5,"T3":29,"T4":28},{"t":"2023-05-26T02:00","T1":41,"T2":40,"T3":44,"T4":44},{"t":"2023-05-28T00:00","T1":41.5,"T2":40,"T3":45,"T4":45.5},{"t":"2023-05-30T00:00","T1":42.5,"T2":41,"T3":46,"T4":46.5},{"t":"2023-05-31T00:00","T1":43,"T2":41,"T3":46,"T4":47},{"t":"2023-05-31T05:00","T1":43,"T2":41,"T3":46,"T4":57},{"t":"2023-05-31T10:00","T1":29,"T2":28,"T3":29,"T4":28},{"t":"2023-05-31T19:00","T1":44,"T2":42,"T3":46,"T4":45},{"t":"2023-06-02T00:00","T1":44.5,"T2":43,"T3":46.5,"T4":40},{"t":"2023-06-03T00:00","T1":45,"T2":43.5,"T3":47,"T4":46},{"t":"2023-06-04T12:00","T1":45,"T2":43.5,"T3":47,"T4":46},{"t":"2023-06-06T00:00","T1":45,"T2":43,"T3":46.5,"T4":45.5},{"t":"2023-06-06T22:00","T1":44.5,"T2":43,"T3":46,"T4":45},{"t":"2023-06-07T17:00","T1":29,"T2":28,"T3":29,"T4":28},{"t":"2023-06-08T12:00","T1":40.5,"T2":39.5,"T3":42.5,"T4":41},{"t":"2023-06-10T00:00","T1":40.5,"T2":39.5,"T3":42.5,"T4":41},{"t":"2023-06-12T00:00","T1":40.5,"T2":39.5,"T3":42.5,"T4":41},{"t":"2023-06-13T19:00","T1":40.5,"T2":39.5,"T3":42,"T4":41},{"t":"2023-06-14T05:00","T1":31,"T2":30,"T3":31,"T4":30},{"t":"2023-06-14T14:00","T1":40,"T2":39,"T3":41.5,"T4":41},{"t":"2023-06-16T00:00","T1":40,"T2":39,"T3":41.5,"T4":40},{"t":"2023-06-17T00:00","T1":40,"T2":38.5,"T3":41.5,"T4":33},{"t":"2023-06-17T10:00","T1":40,"T2":39,"T3":41.5,"T4":41},{"t":"2023-06-18T19:00","T1":40,"T2":39,"T3":41.5,"T4":40.5},{"t":"2023-06-19T22:00","T1":39.5,"T2":38,"T3":41,"T4":35},{"t":"2023-06-20T10:00","T1":40,"T2":39,"T3":41.5,"T4":41},{"t":"2023-06-21T12:00","T1":40,"T2":39,"T3":41.5,"T4":41},{"t":"2023-06-22T10:00","T1":29,"T2":28,"T3":29.5,"T4":29},{"t":"2023-06-22T19:00","T1":27.5,"T2":26.5,"T3":28,"T4":27.5},{"t":"2023-06-25T00:00","T1":27,"T2":26,"T3":28,"T4":27},{"t":"2023-06-28T02:00","T1":26.5,"T2":26,"T3":27.5,"T4":27}
],
"star":[
{"t":"2022-11-23T17:00","T":71.7},{"t":"2022-12-15T00:00","T":52.3},{"t":"2022-12-17T00:00","T":57.2},{"t":"2022-12-18T22:00","T":62.1},{"t":"2023-01-16T12:00","T":58.3},{"t":"2023-01-23T22:00","T":53.2},{"t":"2023-01-28T12:00","T":64.7},{"t":"2023-01-31T17:00","T":68.9},{"t":"2023-02-15T10:00","T":53.6},{"t":"2023-02-18T12:00","T":61.7},{"t":"2023-02-20T05:00","T":66.8},{"t":"2023-02-22T05:00","T":70.9},{"t":"2023-02-28T14:00","T":71.7}
],
"brace":[
{"t":"2022-11-21T07:00","T":72.34,"b":1},{"t":"2022-11-22T01:00","T":73.4,"b":1},{"t":"2022-11-23T12:00","T":73.83,"b":1},{"t":"2023-01-09T05:00","T":73.83,"b":1},{"t":"2023-01-10T10:00","T":74.26,"b":1},{"t":"2023-01-11T04:00","T":75.32,"b":1},{"t":"2023-01-11T21:00","T":74.26,"b":1},{"t":"2023-01-13T02:00","T":73.83,"b":1},{"t":"2023-02-28T19:00","T":73.83,"b":1},{"t":"2023-03-02T06:00","T":73.4,"b":1},{"t":"2023-03-02T18:00","T":72.34,"b":1},
{"t":"2023-03-02T12:00","T":55.96,"b":2},{"t":"2023-03-03T06:00","T":57.45,"b":2},{"t":"2023-03-04T17:00","T":57.98,"b":2},{"t":"2023-04-25T13:00","T":57.98,"b":2},{"t":"2023-04-26T12:00","T":58.51,"b":2},{"t":"2023-04-27T06:00","T":59.79,"b":2},{"t":"2023-04-28T00:00","T":58.51,"b":2},{"t":"2023-04-28T23:00","T":57.98,"b":2},{"t":"2023-06-20T01:00","T":57.98,"b":2},{"t":"2023-06-21T12:00","T":57.45,"b":2},{"t":"2023-06-22T00:00","T":55.96,"b":2}
],
"btxt":[
{"txt":"ビームダンプ温度が頻繁に上昇","t":"2023-01-11T04:00","T":77.87},
{"txt":"ビームダンプ温度の上昇がほとんどない","t":"2023-04-26T12:00","T":63.19}
]
},
"vconcat":[
{
"width":998,"height":377,
"resolve":{"scale":{"y":"independent"}},
"layer":[
{"data":{"name":"box"},"mark":{"type":"rect","fill":"white"},
 "encoding":{"x":{"field":"x1","type":"temporal","scale":{"domain":[{"year":2022,"month":11,"date":1},{"year":2023,"month":7,"date":3}]}},"x2":{"field":"x2"},
  "y":{"field":"y1","type":"quantitative","scale":{"domain":[0,8e18],"nice":false},"axis":null},"y2":{"field":"y2"},
  "stroke":{"field":"g","type":"nominal","scale":{"domain":["r","o","c","p","g","y"],"range":["#ff0000","#ffc000","#00b0f0","#7030a0","#00b050","#ffff00"]},"legend":null},
  "strokeWidth":{"condition":{"test":"datum.g === 'y'","value":3},"value":1.8}}},
{"data":{"name":"boxtxt"},"mark":{"type":"text","font":"Lato, 'Noto Sans CJK JP', sans-serif","fontSize":15,"color":"#262626","baseline":"middle","align":"center"},
 "encoding":{"x":{"field":"t","type":"temporal"},"y":{"field":"y","type":"quantitative","scale":{"domain":[0,8e18],"nice":false},"axis":null},"text":{"field":"txt"}}},
{"data":{"name":"pn"},"mark":{"type":"line","strokeWidth":1.5},
 "encoding":{
  "x":{"field":"t","type":"temporal","scale":{"domain":[{"year":2022,"month":11,"date":1},{"year":2023,"month":7,"date":3}]},"axis":{"values":[{"year":2022,"month":11,"date":1},{"year":2022,"month":12,"date":1,"hours":12},{"year":2023,"month":1,"date":1},{"year":2023,"month":1,"date":31,"hours":12},{"year":2023,"month":3,"date":3},{"year":2023,"month":4,"date":2,"hours":12},{"year":2023,"month":5,"date":3},{"year":2023,"month":6,"date":2,"hours":12},{"year":2023,"month":7,"date":3}],"labels":false,"ticks":false,"title":null,"grid":true}},
  "y":{"field":"v","type":"quantitative","scale":{"domain":[0,8e18],"nice":false},"axis":{"values":[0,1e18,2e18,3e18,4e18,5e18,6e18,7e18,8e18],"labelExpr":"datum.value == 0 ? '0.0E+00' : upper(format(datum.value, '.1e'))","title":"particle number (1hour)","titlePadding":8,"tickSize":5,"labelPadding":10,"grid":true}},
  "color":{"field":"g","type":"nominal","scale":{"domain":["r","o","c","p","g","y"],"range":["#ff0000","#ffc000","#00b0f0","#7030a0","#00b050","#ffff00"]},"legend":null}}},
{"data":{"values":[{}]},"mark":{"type":"rule","color":"#0000ff","strokeDash":[6,4],"strokeWidth":1.5},
 "encoding":{"y":{"datum":6.13e18,"type":"quantitative","scale":{"domain":[0,8e18],"nice":false},"axis":null}}},
{"data":{"values":[{}]},"mark":{"type":"text","font":"Lato","fontSize":15,"color":"#262626","align":"left","baseline":"middle"},
 "encoding":{"x":{"datum":{"year":2022,"month":11,"date":1,"hours":18},"type":"temporal"},"y":{"datum":6.345e18,"type":"quantitative","scale":{"domain":[0,8e18],"nice":false},"axis":null},"text":{"value":"MLF 800 kW"}}},
{"data":{"name":"cum"},"mark":{"type":"line","color":"#000000","strokeWidth":1.3},
 "encoding":{"x":{"field":"t","type":"temporal"},
  "y":{"field":"n","type":"quantitative","scale":{"domain":[0,8e21],"nice":false},"axis":{"orient":"right","values":[0,1e21,2e21,3e21,4e21,5e21,6e21,7e21,8e21],"labelExpr":"datum.value == 0 ? '0.0E+00' : upper(format(datum.value, '.1e'))","title":"particle number (total)","titleAngle":270,"titleBaseline":"top","titlePadding":30,"tickSize":5,"labelPadding":10,"grid":false}},
  "detail":{"field":"s","type":"nominal"}}},
{"data":{"name":"lab"},"mark":{"type":"rect","fill":"#ff66ff"},
 "encoding":{"x":{"field":"x1","type":"temporal"},"x2":{"field":"x2"},"y":{"field":"y1","type":"quantitative","scale":{"domain":[0,8e18],"nice":false},"axis":null},"y2":{"field":"y2"}}},
{"data":{"name":"lab"},"mark":{"type":"rule","color":"#404040","strokeWidth":1},
 "encoding":{"x":{"field":"x1","type":"temporal"},"y":{"field":"y1","type":"quantitative","scale":{"domain":[0,8e18],"nice":false},"axis":null},"y2":{"field":"y2"}}},
{"data":{"name":"lab"},"mark":{"type":"rule","color":"#404040","strokeWidth":1},
 "encoding":{"x":{"field":"x2","type":"temporal"},"y":{"field":"y1","type":"quantitative","scale":{"domain":[0,8e18],"nice":false},"axis":null},"y2":{"field":"y2"}}},
{"data":{"name":"lab"},"mark":{"type":"text","font":"Lato","fontSize":15,"color":"#000000","baseline":"middle","align":"center"},
 "encoding":{"x":{"field":"t","type":"temporal"},"y":{"field":"y","type":"quantitative","scale":{"domain":[0,8e18],"nice":false},"axis":null},"text":{"field":"txt"}}}
]
},
{
"width":998,"height":282,
"layer":[
{"data":{"name":"temp"},"transform":[{"fold":["T1","T2","T3","T4"],"as":["k","v"]}],"mark":{"type":"line","strokeWidth":1.3},
 "encoding":{
  "x":{"field":"t","type":"temporal","scale":{"domain":[{"year":2022,"month":11,"date":1},{"year":2023,"month":7,"date":3}]},"axis":{"values":[{"year":2022,"month":11,"date":1},{"year":2022,"month":12,"date":1,"hours":12},{"year":2023,"month":1,"date":1},{"year":2023,"month":1,"date":31,"hours":12},{"year":2023,"month":3,"date":3},{"year":2023,"month":4,"date":2,"hours":12},{"year":2023,"month":5,"date":3},{"year":2023,"month":6,"date":2,"hours":12},{"year":2023,"month":7,"date":3}],"format":"%Y/%-m/%-d","formatType":"time","title":null,"grid":true,"ticks":false,"labelPadding":11,"labelFlush":false}},
  "y":{"field":"v","type":"quantitative","scale":{"domain":[20,80],"nice":false},"axis":{"values":[20,30,40,50,60,70,80],"title":"Temperature [°C]","titlePadding":38,"ticks":false,"labelPadding":15,"grid":true}},
  "color":{"field":"k","type":"nominal","scale":{"domain":["T1","T2","T3","T4"],"range":["#5b9bd5","#7030a0","#ff80ff","#ffc000"]},
   "legend":{"orient":"none","legendX":1005,"legendY":86,"title":null,"symbolType":"stroke","symbolSize":400,"symbolStrokeWidth":1.5,"labelFont":"Noto Sans CJK JP","labelFontSize":15,"labelColor":"#595959","rowPadding":12,"padding":0,"labelExpr":"'ダンプ温度' + slice(datum.label, 1)"}}}},
{"data":{"values":[{}]},"mark":{"type":"rule","color":"#ff0000","strokeWidth":1.5},
 "encoding":{"y":{"datum":70,"type":"quantitative"}}},
{"data":{"values":[{}]},"mark":{"type":"text","font":"Lato","fontSize":15,"color":"#262626","align":"center","baseline":"middle","lineHeight":19},
 "encoding":{"x":{"datum":{"year":2022,"month":11,"date":7,"hours":20},"type":"temporal"},"y":{"datum":74.04,"type":"quantitative"},"text":{"value":["UPPER","LIMIT"]}}},
{"data":{"name":"brace"},"mark":{"type":"line","color":"#000000","strokeWidth":1.5,"interpolate":"monotone"},
 "encoding":{"x":{"field":"t","type":"temporal"},"y":{"field":"T","type":"quantitative"},"detail":{"field":"b","type":"nominal"}}},
{"data":{"name":"btxt"},"mark":{"type":"text","font":"Noto Sans CJK JP","fontSize":18.5,"color":"#333333","align":"center","baseline":"middle"},
 "encoding":{"x":{"field":"t","type":"temporal"},"y":{"field":"T","type":"quantitative"},"text":{"field":"txt"}}},
{"data":{"name":"star"},"mark":{"type":"point","shape":"M0,-1L0.2245,-0.309L0.9511,-0.309L0.3633,0.118L0.5878,0.809L0,0.382L-0.5878,0.809L-0.3633,0.118L-0.9511,-0.309L-0.2245,-0.309Z","filled":true,"fill":"#ffff00","stroke":"#1f3864","strokeWidth":1.2,"size":300,"opacity":1},
 "encoding":{"x":{"field":"t","type":"temporal"},"y":{"field":"T","type":"quantitative"}}},
{"data":{"values":[{}]},"mark":{"type":"rect","fill":"white","stroke":"#000000","strokeWidth":1},
 "encoding":{"x":{"datum":{"year":2023,"month":5,"date":19,"hours":12},"type":"temporal"},"x2":{"datum":{"year":2023,"month":6,"date":30,"hours":1}},"y":{"datum":78.09,"type":"quantitative"},"y2":{"datum":72.98}}},
{"data":{"values":[{}]},"mark":{"type":"point","shape":"M0,-1L0.2245,-0.309L0.9511,-0.309L0.3633,0.118L0.5878,0.809L0,0.382L-0.5878,0.809L-0.3633,0.118L-0.9511,-0.309L-0.2245,-0.309Z","filled":true,"fill":"#ffff00","stroke":"#1f3864","strokeWidth":1.2,"size":300,"opacity":1},
 "encoding":{"x":{"datum":{"year":2023,"month":5,"date":23,"hours":16},"type":"temporal"},"y":{"datum":75.53,"type":"quantitative"}}},
{"data":{"values":[{}]},"mark":{"type":"text","font":"Noto Sans CJK JP","fontSize":16,"color":"#404040","align":"left","baseline":"middle"},
 "encoding":{"x":{"datum":{"year":2023,"month":5,"date":28,"hours":1},"type":"temporal"},"y":{"datum":75.53,"type":"quantitative"},"text":{"value":"フォイル位置調整"}}}
]
}
]
}
